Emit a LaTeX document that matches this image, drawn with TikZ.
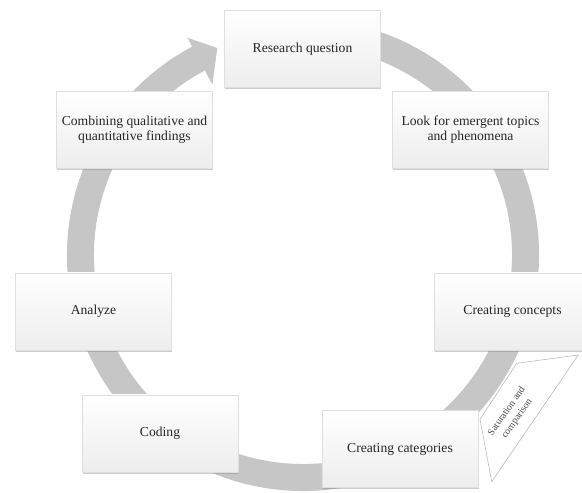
\documentclass[tikz,border=0pt]{standalone}
\usepackage{fontspec}
\setmainfont{Liberation Serif}
\usepackage{tikz}
\usetikzlibrary{shadows}
\definecolor{ringgray}{RGB}{198,198,198}
\tikzstyle{stage} = [rectangle, minimum width=3.9cm, minimum height=1.925cm, text centered, align=center, draw=gray!25, top color=white, bottom color=gray!14, text=black!85, font=\fontsize{9.7}{10.8}\selectfont, drop shadow={opacity=0.4, shadow xshift=0.5pt, shadow yshift=-1.3pt}]
\tikzstyle{note} = [text=black!70, align=center, font=\fontsize{7}{9}\selectfont]

\begin{document}
\begin{tikzpicture}[x=0.025cm, y=0.025cm]
\useasboundingbox (0,0) rectangle (582,492);

% Cycle arrow
\begin{scope}[shift={(303,237)}]
\fill[ringgray] (80:236) arc (80:-242:236) -- (-242:246) -- (-247.5:224) -- (-242:193) -- (-242:209) arc (-242:80:209) -- cycle;
\end{scope}

% Nodes
\node (question) [stage] at (302.5,443) {Research question};
\node (emergent) [stage] at (470.5,362) {Look for emergent topics\\and phenomena};
\node (concepts) [stage] at (512.5,180.5) {Creating concepts};
\node (categories) [stage] at (400,43) {Creating categories};
\node (coding) [stage] at (160,58.5) {Coding};
\node (analyze) [stage] at (93.5,180.5) {Analyze};
\node (combine) [stage] at (134.5,362) {Combining qualitative and\\quantitative findings};

% Saturation box
\draw[gray!55, fill=white] (480,72.7) -- (516.7,128.7) -- (578.3,137) -- (491.7,10.3) -- cycle;
\node (saturation) [note, rotate=55] at (512,77) {Saturation and\\comparison};

\end{tikzpicture}
\end{document}
